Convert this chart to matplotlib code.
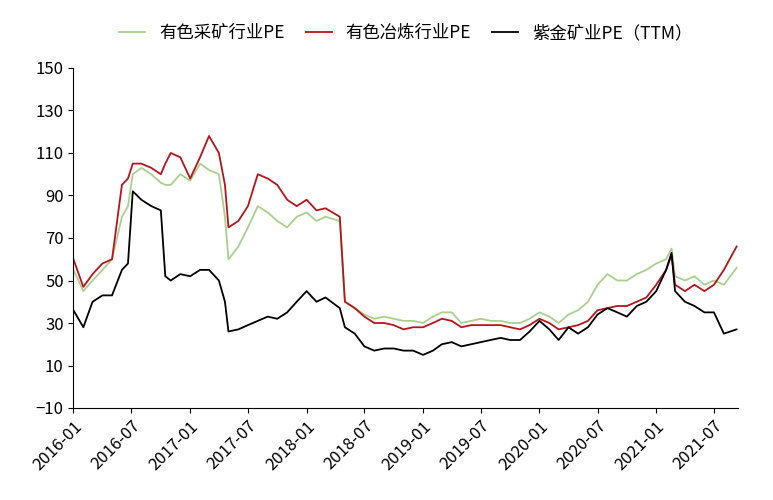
import matplotlib
matplotlib.use("Agg")
import matplotlib.pyplot as plt
import matplotlib.dates as mdates
import pandas as pd

plt.rcParams["font.family"] = ["Noto Sans CJK SC", "DejaVu Sans"]

# monthly points, plus a few mid-month points where the series jump
dates = pd.to_datetime([
    "2016-01-01", "2016-02-01", "2016-03-01", "2016-04-01", "2016-05-01", "2016-06-01", "2016-06-20",
    "2016-07-05", "2016-08-01", "2016-09-01", "2016-10-01", "2016-10-15", "2016-11-01", "2016-12-01",
    "2017-01-01", "2017-02-01", "2017-03-01", "2017-04-01", "2017-04-20", "2017-05-01", "2017-06-01",
    "2017-07-01", "2017-08-01", "2017-09-01", "2017-10-01", "2017-11-01", "2017-12-01",
    "2018-01-01", "2018-02-01", "2018-03-01", "2018-04-15", "2018-05-01", "2018-06-01", "2018-07-01",
    "2018-08-01", "2018-09-01", "2018-10-01", "2018-11-01", "2018-12-01",
    "2019-01-01", "2019-02-01", "2019-03-01", "2019-04-01", "2019-05-01", "2019-06-01", "2019-07-01",
    "2019-08-01", "2019-09-01", "2019-10-01", "2019-11-01", "2019-12-01",
    "2020-01-01", "2020-02-01", "2020-03-01", "2020-04-01", "2020-05-01", "2020-06-01", "2020-07-01",
    "2020-08-01", "2020-09-01", "2020-10-01", "2020-11-01", "2020-12-01",
    "2021-01-01", "2021-02-01", "2021-02-18", "2021-03-01", "2021-04-01", "2021-05-01", "2021-06-01",
    "2021-07-01", "2021-08-01", "2021-09-10",
])

mining = [
    55, 45, 50, 55, 60, 80, 85,
    100, 103, 100, 96, 95, 95, 100,
    97, 105, 102, 100, 80, 60, 66,
    75, 85, 82, 78, 75, 80,
    82, 78, 80, 78, 40, 37, 34,
    32, 33, 32, 31, 31,
    30, 33, 35, 35, 30, 31, 32,
    31, 31, 30, 30, 32,
    35, 33, 30, 34, 36, 40, 48,
    53, 50, 50, 53, 55,
    58, 60, 65, 52, 50, 52, 48,
    50, 48, 56,
]

smelting = [
    60, 47, 53, 58, 60, 95, 98,
    105, 105, 103, 100, 105, 110, 108,
    98, 108, 118, 110, 95, 75, 78,
    85, 100, 98, 95, 88, 85,
    88, 83, 84, 80, 40, 37, 33,
    30, 30, 29, 27, 28,
    28, 30, 32, 31, 28, 29, 29,
    29, 29, 28, 27, 29,
    32, 30, 27, 28, 29, 31, 36,
    37, 38, 38, 40, 42,
    48, 55, 62, 48, 45, 48, 45,
    48, 55, 66,
]

zijin = [
    36, 28, 40, 43, 43, 55, 58,
    92, 88, 85, 83, 52, 50, 53,
    52, 55, 55, 50, 40, 26, 27,
    29, 31, 33, 32, 35, 40,
    45, 40, 42, 37, 28, 25, 19,
    17, 18, 18, 17, 17,
    15, 17, 20, 21, 19, 20, 21,
    22, 23, 22, 22, 26,
    31, 27, 22, 28, 25, 28, 34,
    37, 35, 33, 38, 40,
    45, 55, 63, 45, 40, 38, 35,
    35, 25, 27,
]

fig = plt.figure(figsize=(7.73, 5.0), dpi=100)
ax = fig.add_axes([0.095, 0.184, 0.86, 0.68])

ax.plot(dates, mining, color="#a9d08e", lw=1.3, label="有色采矿行业PE")
ax.plot(dates, smelting, color="#b8141a", lw=1.3, label="有色冶炼行业PE")
ax.plot(dates, zijin, color="black", lw=1.3, label="紫金矿业PE（TTM）")

ax.set_ylim(-10, 150)
ax.set_yticks(range(-10, 151, 20))
ax.set_xlim(pd.Timestamp("2016-01-01"), pd.Timestamp("2021-09-15"))
ax.xaxis.set_major_locator(mdates.MonthLocator(bymonth=[1, 7]))
ax.xaxis.set_major_formatter(mdates.DateFormatter("%Y-%m"))
plt.setp(ax.get_xticklabels(), rotation=45, ha="right", rotation_mode="anchor")
ax.tick_params(labelsize=12)
for s in ["top", "right"]:
    ax.spines[s].set_visible(False)

ax.legend(loc="lower center", bbox_to_anchor=(0.5, 1.03), ncol=3, frameon=False,
          fontsize=12.5, handlelength=1.5, columnspacing=1.2)

fig.savefig("out.png")
